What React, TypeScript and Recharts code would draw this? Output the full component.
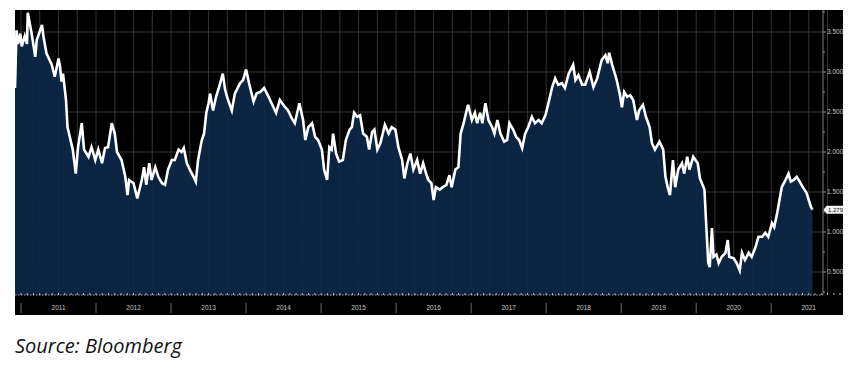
import { Area, AreaChart, CartesianGrid, XAxis, YAxis } from "recharts";

// decimal year of each reading, and the yield
const dates = [
  2010.92, 2010.94, 2010.96, 2010.99, 2011.01, 2011.05, 2011.08, 2011.09, 2011.14, 2011.19,
  2011.21, 2011.28, 2011.3, 2011.34, 2011.41, 2011.45, 2011.5, 2011.52, 2011.54, 2011.56,
  2011.6, 2011.62, 2011.65, 2011.69, 2011.73, 2011.76, 2011.81, 2011.84, 2011.9, 2011.94,
  2011.99, 2012.03, 2012.08, 2012.12, 2012.16, 2012.21, 2012.25, 2012.28, 2012.34, 2012.39,
  2012.42, 2012.44, 2012.5, 2012.55, 2012.61, 2012.64, 2012.67, 2012.71, 2012.74, 2012.79,
  2012.83, 2012.88, 2012.92, 2012.96, 2013.01, 2013.05, 2013.1, 2013.14, 2013.17, 2013.21,
  2013.25, 2013.3, 2013.33, 2013.36, 2013.41, 2013.44, 2013.47, 2013.5, 2013.52, 2013.56,
  2013.6, 2013.64, 2013.69, 2013.72, 2013.76, 2013.81, 2013.85, 2013.92, 2013.96, 2014.0,
  2014.04, 2014.1, 2014.14, 2014.19, 2014.24, 2014.3, 2014.34, 2014.4, 2014.45, 2014.52,
  2014.56, 2014.61, 2014.65, 2014.71, 2014.76, 2014.79, 2014.83, 2014.88, 2014.92, 2014.96,
  2015.01, 2015.04, 2015.08, 2015.11, 2015.14, 2015.16, 2015.2, 2015.24, 2015.29, 2015.33,
  2015.38, 2015.41, 2015.44, 2015.48, 2015.52, 2015.56, 2015.61, 2015.64, 2015.68, 2015.71,
  2015.75, 2015.79, 2015.85, 2015.9, 2015.94, 2015.99, 2016.03, 2016.08, 2016.11, 2016.15,
  2016.19, 2016.23, 2016.28, 2016.32, 2016.36, 2016.4, 2016.43, 2016.47, 2016.5, 2016.53,
  2016.58, 2016.62, 2016.67, 2016.71, 2016.74, 2016.79, 2016.83, 2016.86, 2016.9, 2016.94,
  2016.96, 2017.01, 2017.05, 2017.08, 2017.12, 2017.15, 2017.19, 2017.23, 2017.28, 2017.31,
  2017.35, 2017.39, 2017.44, 2017.48, 2017.51, 2017.56, 2017.6, 2017.64, 2017.68, 2017.72,
  2017.76, 2017.81, 2017.85, 2017.9, 2017.94, 2017.99, 2018.03, 2018.08, 2018.12, 2018.16,
  2018.21, 2018.25, 2018.3, 2018.36, 2018.39, 2018.43, 2018.48, 2018.52, 2018.58, 2018.63,
  2018.68, 2018.74, 2018.79, 2018.82, 2018.84, 2018.88, 2018.94, 2018.98, 2019.01, 2019.04,
  2019.08, 2019.12, 2019.16, 2019.21, 2019.24, 2019.29, 2019.33, 2019.38, 2019.41, 2019.45,
  2019.51, 2019.56, 2019.59, 2019.62, 2019.65, 2019.69, 2019.72, 2019.76, 2019.81, 2019.84,
  2019.88, 2019.91, 2019.96, 2020.02, 2020.05, 2020.11, 2020.13, 2020.16, 2020.18, 2020.21,
  2020.23, 2020.27, 2020.3, 2020.34, 2020.39, 2020.42, 2020.44, 2020.5, 2020.54, 2020.58,
  2020.61, 2020.65, 2020.7, 2020.74, 2020.79, 2020.83, 2020.88, 2020.92, 2020.96, 2021.01,
  2021.04, 2021.08, 2021.11, 2021.14, 2021.19, 2021.23, 2021.26, 2021.3, 2021.34, 2021.38,
  2021.42, 2021.47, 2021.5, 2021.53, 2021.55,
];

const yields = [
  2.8, 3.52, 3.35, 3.48, 3.32, 3.45, 3.35, 3.74, 3.49, 3.19,
  3.4, 3.59, 3.44, 3.23, 3.09, 2.94, 3.17, 3.07, 2.88, 2.98,
  2.65, 2.31, 2.19, 2.03, 1.73, 2.06, 2.36, 2.03, 1.94, 2.06,
  1.9, 2.03, 1.86, 2.05, 2.06, 2.36, 2.23, 2.0, 1.9, 1.69,
  1.46, 1.65, 1.61, 1.42, 1.65, 1.81, 1.59, 1.86, 1.65, 1.81,
  1.69, 1.61, 1.59, 1.78, 1.9, 1.9, 2.03, 2.0, 2.05, 1.86,
  1.78, 1.69, 1.63, 1.9, 2.15, 2.23, 2.49, 2.61, 2.73, 2.52,
  2.69, 2.81, 2.98, 2.78, 2.65, 2.52, 2.73, 2.86, 2.9, 3.03,
  2.86, 2.63, 2.73, 2.75, 2.8, 2.69, 2.61, 2.49, 2.65, 2.56,
  2.52, 2.42, 2.36, 2.61, 2.4, 2.15, 2.31, 2.36, 2.19, 2.15,
  2.03, 1.78, 1.65, 2.06, 2.03, 2.23, 1.98, 1.88, 1.9, 2.15,
  2.28, 2.31, 2.49, 2.44, 2.46, 2.23, 2.19, 2.03, 2.25, 2.28,
  2.03, 2.11, 2.34, 2.23, 2.31, 2.28, 2.06, 1.9, 1.67, 1.86,
  1.98, 1.78, 1.9, 1.73, 1.86, 1.73, 1.65, 1.61, 1.4, 1.56,
  1.53, 1.56, 1.59, 1.71, 1.56, 1.78, 1.81, 2.23, 2.36, 2.52,
  2.59, 2.4, 2.49, 2.36, 2.49, 2.36, 2.61, 2.4, 2.31, 2.23,
  2.4, 2.23, 2.13, 2.15, 2.36, 2.28, 2.19, 2.15, 2.05, 2.23,
  2.31, 2.44, 2.36, 2.4, 2.36, 2.46, 2.61, 2.81, 2.92, 2.84,
  2.86, 2.8, 2.98, 3.09, 2.9, 2.96, 2.84, 2.84, 3.0, 2.81,
  2.92, 3.15, 3.21, 3.11, 3.24, 3.09, 2.9, 2.73, 2.56, 2.75,
  2.69, 2.71, 2.65, 2.4, 2.52, 2.59, 2.44, 2.31, 2.11, 2.03,
  2.13, 2.03, 1.69, 1.56, 1.46, 1.9, 1.56, 1.78, 1.86, 1.73,
  1.94, 1.78, 1.94, 1.86, 1.67, 1.53, 1.15, 0.62, 0.56, 1.05,
  0.69, 0.72, 0.61, 0.69, 0.74, 0.9, 0.69, 0.67, 0.61, 0.52,
  0.74, 0.65, 0.74, 0.69, 0.81, 0.94, 0.94, 0.99, 0.94, 1.11,
  1.06, 1.24, 1.4, 1.56, 1.65, 1.73, 1.63, 1.65, 1.69, 1.63,
  1.56, 1.49, 1.4, 1.31, 1.279,
];

const years = [2011, 2012, 2013, 2014, 2015, 2016, 2017, 2018, 2019, 2020, 2021];
const yMajor = [0.5, 1, 1.5, 2, 2.5, 3, 3.5];
const yMinor = [0.25, 0.75, 1.25, 1.75, 2.25, 2.75, 3.25, 3.75];
const lastValue = 1.279;

const data = dates.map((t, i) => ({ t, v: yields[i] }));
const monthTicks = years.flatMap((y) => Array.from({ length: 12 }, (_, m) => y + m / 12));
const quarterTicks = years.flatMap((y) => [y, y + 0.25, y + 0.5, y + 0.75]);
const yTicks = [...yMinor, ...yMajor, lastValue];

const FONT = "'Liberation Sans', Arial, sans-serif";

function XTick(props: any) {
  const { x, y, payload } = props;
  const v: number = payload.value;
  const yr = Math.floor(v + 1e-6);
  const m = Math.round((v - yr) * 12);
  return (
    <g>
      <line x1={x} x2={x} y1={y - 2} y2={y} stroke="#e0e0e0" strokeWidth={0.8} />
      {m === 0 && <line x1={x} x2={x} y1={y + 8} y2={y + 18} stroke="#6a6a6a" strokeWidth={1} />}
      {m === 6 && (
        <text x={x} y={y + 15} textAnchor="middle" fontSize={6.5} fill="#c8c8c8" fontFamily={FONT}>
          {yr}
        </text>
      )}
    </g>
  );
}

function YTick(props: any) {
  const { x, y, payload } = props;
  const v: number = payload.value;
  if (v === lastValue) {
    return (
      <g>
        <path
          d={`M${x + 0.5},${y} L${x + 3.5},${y - 4} L${x + 20},${y - 4} L${x + 20},${y + 4} L${x + 3.5},${y + 4} Z`}
          fill="#f2f2f2"
        />
        <text x={x + 5} y={y + 2.3} fontSize={6} fill="#111" fontFamily={FONT}>
          {lastValue.toFixed(3)}
        </text>
      </g>
    );
  }
  const major = yMajor.includes(v);
  return (
    <g>
      <line x1={x} x2={x + (major ? 3 : 2)} y1={y} y2={y} stroke="#bdbdbd" strokeWidth={0.8} />
      {major && (
        <text x={x + 4} y={y + 2.3} fontSize={6.5} fill="#c8c8c8" fontFamily={FONT}>
          {v.toFixed(3)}
        </text>
      )}
    </g>
  );
}

export default function App() {
  return (
    <div style={{ position: "relative", margin: -8, width: 868, height: 369, background: "#fff" }}>
      <div style={{ position: "absolute", left: 15, top: 10, width: 828, height: 305, background: "#000" }}>
        <AreaChart width={828} height={305} data={data} margin={{ top: 0, right: 0, left: 0, bottom: 0 }}>
          <CartesianGrid
            stroke="#343434"
            strokeWidth={1}
            horizontalValues={yMajor}
            verticalValues={quarterTicks}
          />
          <XAxis
            dataKey="t"
            type="number"
            domain={[2010.92, 2021.69]}
            allowDataOverflow
            ticks={monthTicks}
            interval={0}
            tick={<XTick />}
            tickLine={false}
            tickSize={0}
            tickMargin={0}
            axisLine={{ stroke: "#9a9a9a", strokeDasharray: "1.5 1.5" }}
            height={20}
          />
          <YAxis
            orientation="right"
            type="number"
            domain={[0.2125, 3.775]}
            allowDataOverflow
            ticks={yTicks}
            interval={0}
            tick={<YTick />}
            tickLine={false}
            tickSize={0}
            tickMargin={0}
            axisLine={{ stroke: "#7a7a7a" }}
            width={20}
          />
          <Area
            type="linear"
            dataKey="v"
            stroke="#ffffff"
            strokeWidth={2.6}
            fill="#0b2849"
            fillOpacity={0.9}
            isAnimationActive={false}
            dot={false}
            activeDot={false}
          />
        </AreaChart>
      </div>
      <div
        style={{
          position: "absolute",
          left: 15,
          top: 332,
          fontFamily: "'Open Sans', sans-serif",
          fontStyle: "italic",
          fontSize: 20,
          color: "#111",
        }}
      >
        Source: Bloomberg
      </div>
    </div>
  );
}
